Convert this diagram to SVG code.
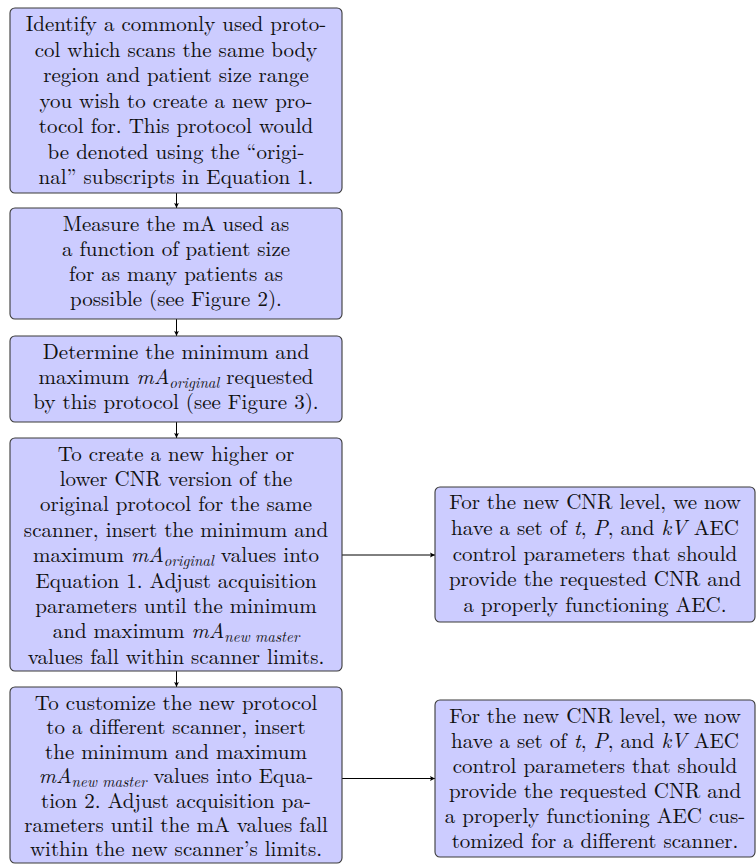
<svg xmlns="http://www.w3.org/2000/svg" width="756" height="865" viewBox="0 0 756 865">
<defs>
<style>
.box{fill:#ccccff;stroke:#3a3a3a;stroke-width:1.1}
.t{font-size:21px;fill:#111;text-anchor:middle}
.m{font-style:italic}
.s{font-style:italic;font-size:15px}
.c{stroke:#000;stroke-width:1;fill:none;marker-end:url(#ah)}
</style>
<marker id="ah" markerUnits="userSpaceOnUse" markerWidth="8" markerHeight="8" viewBox="-1 -4 7 8" refX="5" refY="0" orient="auto">
<path d="M0,-2.4 L5,0 L0,2.4 L1,0 z" fill="#000"/>
</marker>
</defs>
<rect width="756" height="865" fill="#fff"/>
<g id="connectors">
<line class="c" x1="176.5" y1="193" x2="176.5" y2="208"/>
<line class="c" x1="176.5" y1="319" x2="176.5" y2="336"/>
<line class="c" x1="176.5" y1="422" x2="176.5" y2="438"/>
<line class="c" x1="176.5" y1="671" x2="176.5" y2="687"/>
<line class="c" x1="342" y1="555" x2="435" y2="555"/>
<line class="c" x1="342" y1="778.5" x2="435" y2="778.5"/>
</g>
<g font-family="Latin Modern Roman, Liberation Serif, serif">
<g id="n1">
<rect class="box" x="10" y="8" width="332" height="185" rx="5"/>
<text class="t" x="176" y="31">Identify a commonly used proto-</text>
<text class="t" x="176" y="56.5">col which scans the same body</text>
<text class="t" x="176" y="82">region and patient size range</text>
<text class="t" x="176" y="107.5">you wish to create a new pro-</text>
<text class="t" x="176" y="133">tocol for. This protocol would</text>
<text class="t" x="176" y="158.5">be denoted using the “origi-</text>
<text class="t" x="176" y="184">nal” subscripts in Equation 1.</text>
</g>
<g id="n2">
<rect class="box" x="10" y="208" width="332" height="111" rx="5"/>
<text class="t" x="176" y="230.7">Measure the mA used as</text>
<text class="t" x="176" y="255.7">a function of patient size</text>
<text class="t" x="176" y="280.7">for as many patients as</text>
<text class="t" x="176" y="305.7">possible (see Figure 2).</text>
</g>
<g id="n3">
<rect class="box" x="10" y="336" width="332" height="86" rx="5"/>
<text class="t" x="176" y="359.3">Determine the minimum and</text>
<text class="t" x="176" y="384.3">maximum <tspan class="m">mA</tspan><tspan class="s" dy="3.5">original</tspan><tspan dy="-3.5"> requested</tspan></text>
<text class="t" x="176" y="409.3">by this protocol (see Figure 3).</text>
</g>
<g id="n4">
<rect class="box" x="10" y="438" width="332" height="233" rx="5"/>
<text class="t" x="176" y="460.5">To create a new higher or</text>
<text class="t" x="176" y="485.9">lower CNR version of the</text>
<text class="t" x="176" y="511.3">original protocol for the same</text>
<text class="t" x="176" y="536.7">scanner, insert the minimum and</text>
<text class="t" x="176" y="562.1">maximum <tspan class="m">mA</tspan><tspan class="s" dy="3.5">original</tspan><tspan dy="-3.5"> values into</tspan></text>
<text class="t" x="176" y="587.5">Equation 1. Adjust acquisition</text>
<text class="t" x="176" y="612.9">parameters until the minimum</text>
<text class="t" x="176" y="638.3">and maximum <tspan class="m">mA</tspan><tspan class="s" dy="3.5">new master</tspan></text>
<text class="t" x="176" y="663.7">values fall within scanner limits.</text>
</g>
<g id="n5">
<rect class="box" x="10" y="687" width="332" height="176" rx="5"/>
<text class="t" x="176" y="710">To customize the new protocol</text>
<text class="t" x="176" y="734.4">to a different scanner, insert</text>
<text class="t" x="176" y="758.8">the minimum and maximum</text>
<text class="t" x="176" y="783.2"><tspan class="m">mA</tspan><tspan class="s" dy="3.5">new master</tspan><tspan dy="-3.5"> values into Equa-</tspan></text>
<text class="t" x="176" y="807.6">tion 2. Adjust acquisition pa-</text>
<text class="t" x="176" y="832">rameters until the mA values fall</text>
<text class="t" x="176" y="856.4">within the new scanner’s limits.</text>
</g>
<g id="n6">
<rect class="box" x="435" y="487" width="320" height="135" rx="5"/>
<text class="t" x="595" y="509.3">For the new CNR level, we now</text>
<text class="t" x="595" y="534.9">have a set of <tspan class="m">t</tspan>, <tspan class="m">P</tspan>, and <tspan class="m">kV</tspan> AEC</text>
<text class="t" x="595" y="560.5">control parameters that should</text>
<text class="t" x="595" y="586.1">provide the requested CNR and</text>
<text class="t" x="595" y="611.7">a properly functioning AEC.</text>
</g>
<g id="n7">
<rect class="box" x="435" y="700" width="320" height="157" rx="5"/>
<text class="t" x="595" y="722.7">For the new CNR level, we now</text>
<text class="t" x="595" y="747.8">have a set of <tspan class="m">t</tspan>, <tspan class="m">P</tspan>, and <tspan class="m">kV</tspan> AEC</text>
<text class="t" x="595" y="772.9">control parameters that should</text>
<text class="t" x="595" y="798">provide the requested CNR and</text>
<text class="t" x="595" y="823.1">a properly functioning AEC cus-</text>
<text class="t" x="595" y="848.2">tomized for a different scanner.</text>
</g>
</g>
</svg>
